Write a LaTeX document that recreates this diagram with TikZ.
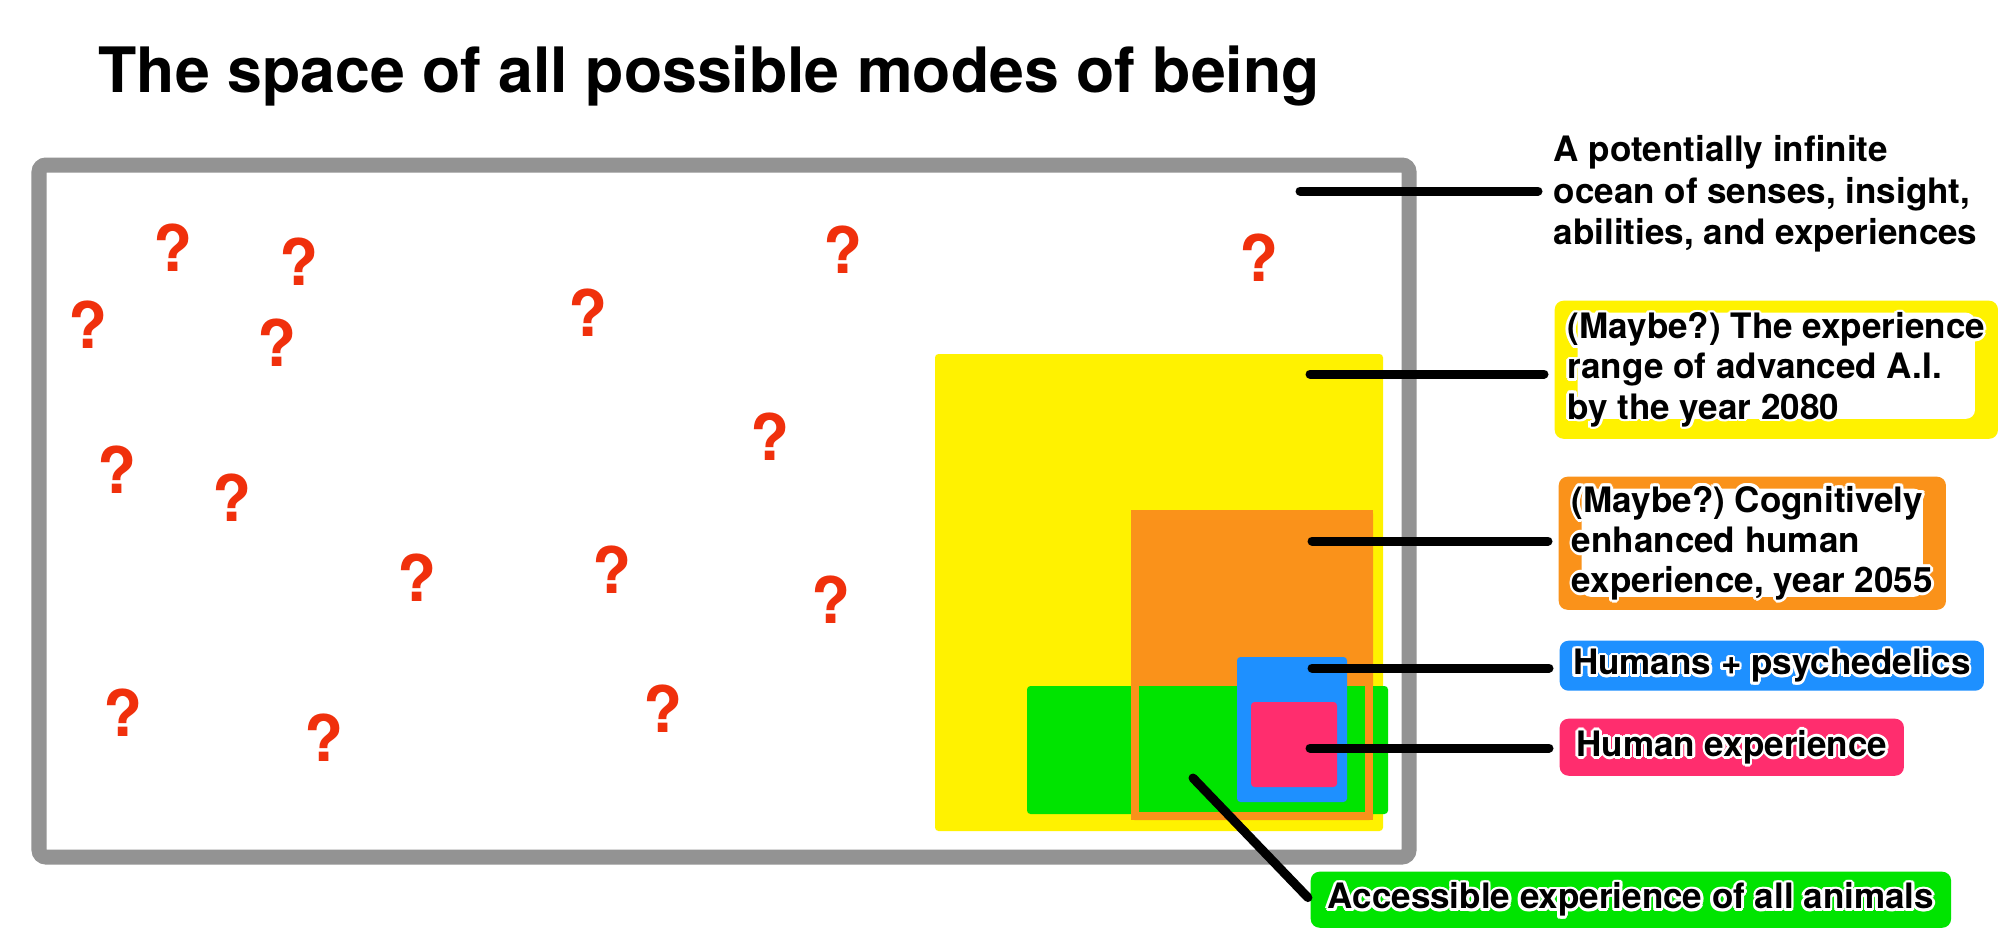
\documentclass[tikz,border=0pt]{standalone}
\usepackage{fontspec}
\setmainfont{TeX Gyre Heros}
\usepackage{tikz}
\definecolor{framegray}{RGB}{147,147,147}
\definecolor{aiyellow}{RGB}{255,242,0}
\definecolor{cogorange}{RGB}{250,146,26}
\definecolor{animgreen}{RGB}{0,228,0}
\definecolor{psyblue}{RGB}{30,144,255}
\definecolor{humpink}{RGB}{255,45,110}
\definecolor{qred}{RGB}{240,48,12}
\newcommand\headfont{\fontsize{17.8pt}{21pt}\selectfont\bfseries}
\newcommand\oceanfont{\fontsize{9.96pt}{11.8pt}\selectfont\bfseries}
\newcommand\tagfont{\fontsize{9.96pt}{11.4pt}\selectfont\bfseries}
\newcommand\qfont{\fontsize{18.2pt}{20pt}\selectfont\bfseries}
\frenchspacing
% white outline round the black letters
\newcommand\halo[1]{\leavevmode\rlap{\color{white}%
  \foreach \ha in {0,30,...,330}{%
    \pgfmathsetlengthmacro\hx{0.8pt*cos(\ha)}%
    \pgfmathsetlengthmacro\hy{0.8pt*sin(\ha)}%
    \rlap{\hspace*{\hx}\raisebox{\hy}{#1}}}}#1}
\tikzset{
  spaceframe/.style = {draw=framegray, line width=0.15cm, rounded corners=2pt},% outer space
  region/.style = {rounded corners=1pt},% range of experience
  pointer/.style = {line width=0.09cm, line cap=round, shorten >=0.1cm},
  qmark/.style = {text=qred, font=\qfont, inner sep=0pt},
  tag/.style = {font=\tagfont, inner sep=0pt, rounded corners=2.5pt,
    align=left, anchor=north west},% coloured label
  tagwhite/.style = {path picture={\fill[white]
    ([xshift=0.23cm,yshift=-0.12cm]path picture bounding box.north west) rectangle
    ([xshift=-0.23cm,yshift=#1]path picture bounding box.south east);}}
}

\begin{document}
\begin{tikzpicture}[x=0.01cm, y=-0.01cm]
    \fill[white] (0,0) rectangle (2000,951);
    \useasboundingbox (0,0) rectangle (2000,951);
    \node[anchor=base west, font=\headfont, inner sep=0pt] (title) at (98,92)
        {The space of all possible modes of being};
    \draw[spaceframe] (39,165) rectangle (1409,857);
    % nested ranges
    \fill[region, aiyellow] (935,354) rectangle (1383,831);
    \fill[region, cogorange] (1131,510) rectangle (1373,820);
    \fill[region, animgreen] (1027,686) rectangle (1388,814);
    \draw[cogorange, line width=0.08cm] (1135,514) rectangle (1369,816);
    \fill[region, psyblue] (1237,657) rectangle (1347,802);
    \fill[region, humpink] (1251,702) rectangle (1337,787);
    % unknown modes
    \foreach \qx/\qy [count=\qi] in {173/248, 299/262, 88/325, 277/343, 588/313,
        843/250, 1259/258, 770/437, 117/470, 232/498, 417/578, 612/570,
        831/600, 123/713, 324/738, 663/709}
        \node[qmark] (q\qi) at (\qx,\qy) {?};
    % labels
    \node[anchor=north west, font=\oceanfont, inner sep=0pt, align=left] (ocean) at (1553,135)
        {A potentially infinite\\ocean of senses, insight,\\abilities, and experiences};
    \node[tag, fill=aiyellow, tagwhite=0.2cm, minimum width=4.43cm, minimum height=1.38cm] (ailabel) at (1554,300)
        {\halo{(Maybe?) The experience}\\\halo{range of advanced A.I.}\\\halo{by the year 2080}};
    \node[tag, fill=cogorange, tagwhite=0.13cm, minimum width=3.87cm, minimum height=1.33cm] (coglabel) at (1558,476)
        {\halo{(Maybe?) Cognitively}\\\halo{enhanced human}\\\halo{experience, year 2055}};
    \node[tag, fill=psyblue, minimum width=4.24cm, minimum height=0.5cm] (psylabel) at (1559,640)
        {\halo{Humans + psychedelics}};
    \node[tag, fill=humpink, minimum width=3.44cm, minimum height=0.57cm] (humlabel) at (1559,718)
        {\halo{Human experience}};
    \node[tag, fill=animgreen, minimum width=6.4cm, minimum height=0.56cm] (animlabel) at (1310,871)
        {\halo{Accessible experience of all animals}};
    % connectors
    \coordinate (oceanpt) at (1300,191);
    \coordinate (aipt) at (1310,374);
    \coordinate (cogpt) at (1312,541);
    \coordinate (psypt) at (1312,668);
    \coordinate (humpt) at (1310,748);
    \coordinate (animpt) at (1193,778);
    \draw[pointer, shorten >=0.15cm] (oceanpt) -- (oceanpt -| ocean.west);
    \draw[pointer] (aipt) -- (aipt -| ailabel.west);
    \draw[pointer] (cogpt) -- (cogpt -| coglabel.west);
    \draw[pointer] (psypt) -- (psypt -| psylabel.west);
    \draw[pointer] (humpt) -- (humpt -| humlabel.west);
    \draw[pointer, shorten >=0.03cm] (animpt) -- (animlabel.west);
\end{tikzpicture}
\end{document}
